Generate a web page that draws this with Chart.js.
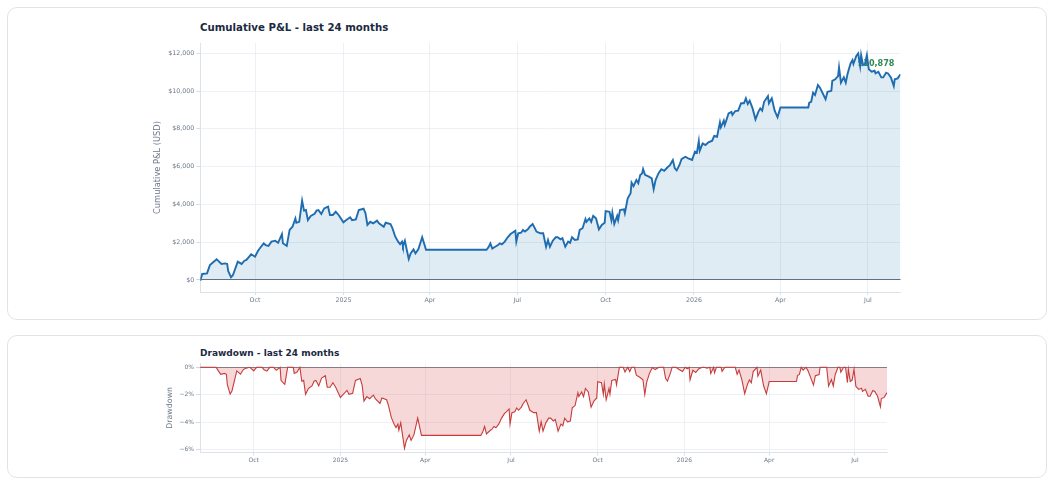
<!DOCTYPE html>
<html>
<head>
<meta charset="utf-8">
<script src="https://cdn.jsdelivr.net/npm/chart.js@4.4.1/dist/chart.umd.min.js"></script>
<style>
  html, body { margin: 0; padding: 0; background: #ffffff; }
  body { position: relative; width: 1051px; height: 486px; overflow: hidden; font-family: 'DejaVu Sans', sans-serif; }
  .card { position: absolute; box-sizing: border-box; border: 1.5px solid #dfe4eb; border-radius: 10px; background: #ffffff; }
  .ttl { position: absolute; font-weight: bold; color: #1b2a41; line-height: 1; white-space: nowrap; }
  canvas { position: absolute; left: 0; }
</style>
</head>
<body>
<div class="card" style="left:7px;top:7px;width:1040px;height:313px;"></div>
<div class="card" style="left:7px;top:335px;width:1040px;height:143px;"></div>
<div class="ttl" style="left:200px;top:22.6px;font-size:10.2px;">Cumulative P&amp;L - last 24 months</div>
<div class="ttl" style="left:200px;top:348.7px;font-size:9px;">Drawdown - last 24 months</div>
<canvas id="pnlChart" width="1051" height="328" style="top:0px;"></canvas>
<canvas id="ddChart" width="1051" height="156" style="top:330px;"></canvas>
<script>
// ---------------- data ----------------
const START_DATE = '2024-08-05';
const STARTING_CAPITAL = 48000;

const pnlDays = [
  0, 2, 7, 10, 14, 17, 19, 22, 26, 28, 29, 32, 34, 39, 43, 46, 48, 53, 57, 60,
  62, 66, 68, 71, 74, 78, 81, 85, 86, 90, 93, 96, 99, 100, 103, 106, 108, 110, 112, 115,
  119, 121, 123, 126, 129, 133, 135, 138, 141, 144, 149, 152, 156, 158, 162, 165, 170, 172, 174, 177,
  180, 184, 186, 191, 193, 198, 200, 203, 206, 208, 210, 211, 213, 215, 217, 219, 222, 224, 227, 231,
  235, 298, 300, 302, 304, 307, 310, 312, 314, 317, 320, 323, 325, 328, 329, 331, 334, 336, 338, 341,
  343, 346, 348, 350, 354, 357, 360, 362, 364, 367, 370, 372, 375, 377, 380, 383, 385, 387, 390, 393,
  395, 398, 401, 402, 405, 407, 409, 412, 415, 418, 421, 422, 426, 428, 429, 431, 434, 435, 437, 441,
  442, 445, 448, 449, 451, 454, 456, 458, 460, 461, 463, 467, 470, 472, 474, 477, 480, 483, 487, 489,
  492, 494, 496, 499, 501, 505, 508, 512, 515, 517, 519, 520, 523, 526, 529, 533, 535, 538, 541, 542,
  545, 546, 548, 550, 553, 554, 557, 560, 563, 566, 568, 570, 572, 575, 578, 581, 583, 585, 587, 591,
  592, 595, 598, 601, 604, 633, 634, 636, 638, 640, 643, 645, 648, 651, 653, 657, 658, 661, 664, 665,
  667, 670, 672, 674, 677, 679, 680, 683, 685, 686, 687, 688, 690, 692, 694, 696, 699, 702, 703, 706,
  709, 711, 714, 716, 719, 722, 723, 726, 729
];

const pnlValues = [
  -40, 320, 350, 790, 970, 1100, 1000, 850, 880, 850, 480, 140, 260, 970, 850, 1020, 1060, 1360, 1230, 1530,
  1680, 1940, 1850, 1800, 2030, 2080, 1970, 2430, 1940, 1800, 2650, 2820, 3260, 3030, 3080, 4200, 3670, 3700, 3170, 3390,
  3500, 3670, 3700, 3490, 3790, 3880, 3440, 3440, 3610, 3440, 3050, 3170, 3320, 3170, 3210, 3700, 3770, 3530, 2910, 3080,
  3000, 3140, 3000, 2820, 3030, 2960, 2740, 2290, 2030, 1900, 2030, 1800, 2080, 1590, 1110, 1410, 1620, 1410, 1620, 2260,
  1600, 1600, 1730, 1940, 1660, 1760, 1850, 1940, 1890, 2030, 2260, 2430, 2500, 2610, 2030, 2470, 2500, 2650, 2560, 2680,
  2820, 2960, 2770, 2560, 2470, 2470, 1760, 2120, 1760, 2080, 2260, 2260, 2150, 2210, 1760, 2030, 1970, 2260, 2120, 2150,
  2650, 2740, 3230, 3080, 3260, 3080, 3390, 3260, 2680, 2910, 3030, 3650, 3610, 3170, 3560, 2960, 3390, 3170, 3700, 3740,
  3530, 4320, 4590, 5150, 4970, 5290, 5120, 5560, 5640, 5870, 5560, 5470, 5380, 4800, 5290, 5640, 5860, 5780, 5990, 6080,
  6350, 5910, 5800, 6100, 6390, 6520, 6440, 6350, 6790, 6730, 7350, 6840, 7230, 7140, 7280, 7370, 7620, 7580, 8340, 8080,
  8430, 8200, 8500, 8820, 8900, 8730, 8940, 8960, 9350, 9350, 9610, 9310, 9490, 9080, 8500, 8900, 9080, 8960, 9430, 9730,
  9350, 9610, 8960, 8610, 9130, 9130, 9380, 9430, 9910, 9790, 10320, 10190, 9880, 9560, 9960, 10010, 10540, 10620, 10790, 11250,
  10440, 10720, 10440, 10930, 11460, 11640, 11430, 11850, 11990, 11640, 11320, 11900, 11370, 11430, 11900, 11150, 11020, 11070, 10930, 11020,
  10720, 10720, 10970, 10930, 10720, 10260, 10620, 10670, 10878
];

const monthTickDates  = ['2024-10-01', '2025-01-01', '2025-04-01', '2025-07-01', '2025-10-01', '2026-01-01', '2026-04-01', '2026-07-01'];
const monthTickLabels = ['Oct', '2025', 'Apr', 'Jul', 'Oct', '2026', 'Apr', 'Jul'];
const pnlTickValues = [0, 2000, 4000, 6000, 8000, 10000, 12000];
const ddTickValues  = [0, -2, -4, -6];

// ---------------- helpers ----------------
const FONT = "'DejaVu Sans', sans-serif";
const TICK_COLOR = '#6b7888';
const GRID_COLOR = '#e9edf2';
const SPINE_COLOR = '#dde2e8';

function dayOf(dateStr) {
  return Math.round((Date.parse(dateStr) - Date.parse(START_DATE)) / 86400000);
}
const monthTickDays = monthTickDates.map(dayOf);

const pnlPoints = pnlDays.map((d, i) => ({ x: d, y: pnlValues[i] }));

// drawdown (% from running peak of account equity)
let runningPeak = -Infinity;
const ddPoints = pnlDays.map((d, i) => {
  const equity = STARTING_CAPITAL + pnlValues[i];
  runningPeak = Math.max(runningPeak, equity);
  return { x: d, y: (equity / runningPeak - 1) * 100 };
});

Chart.defaults.font.family = FONT;

function xAxis(fontSize, height) {
  return {
    type: 'linear',
    min: pnlDays[0],
    max: pnlDays[pnlDays.length - 1],
    afterBuildTicks: s => { s.ticks = monthTickDays.map(v => ({ value: v })); },
    afterFit: s => { s.height = height; },
    ticks: {
      autoSkip: false, maxRotation: 0, minRotation: 0, padding: 1.5,
      color: TICK_COLOR, font: { size: fontSize },
      callback: (v, i) => monthTickLabels[i]
    },
    grid: { color: GRID_COLOR, lineWidth: 0.8, tickLength: 3, tickColor: '#cfd5dd' },
    border: { color: SPINE_COLOR, width: 1 }
  };
}

function yGrid(zeroColor) {
  return {
    color: ctx => (ctx.tick && ctx.tick.value === 0) ? zeroColor : GRID_COLOR,
    lineWidth: ctx => (ctx.tick && ctx.tick.value === 0) ? 1.1 : 0.8,
    tickLength: 4,
    tickColor: '#cfd5dd'
  };
}

// label of final value
const lastValueLabel = {
  id: 'lastValueLabel',
  beforeDatasetsDraw(chart) {
    const meta = chart.getDatasetMeta(0);
    const pt = meta.data[meta.data.length - 1];
    const val = pnlValues[pnlValues.length - 1];
    const ctx = chart.ctx;
    ctx.save();
    ctx.font = "bold 8.1px " + FONT;
    ctx.fillStyle = '#2f8a55';
    ctx.textAlign = 'right';
    ctx.textBaseline = 'middle';
    ctx.fillText('$' + val.toLocaleString('en-US'), pt.x - 6, pt.y - 10.5);
    ctx.restore();
  }
};

// ---------------- cumulative P&L chart ----------------
new Chart(document.getElementById('pnlChart'), {
  type: 'line',
  data: {
    datasets: [{
      data: pnlPoints,
      borderColor: '#1f6db0',
      backgroundColor: 'rgba(31,119,180,0.14)',
      borderWidth: 1.9,
      pointRadius: 0,
      tension: 0,
      fill: 'origin'
    }]
  },
  options: {
    responsive: false,
    animation: false,
    events: [],
    layout: { padding: { left: 153.3, right: 150.5, top: 43, bottom: 16 } },
    plugins: { legend: { display: false }, tooltip: { enabled: false }, title: { display: false } },
    scales: {
      x: xAxis(6.3, 20),
      y: {
        min: -635, max: 12540,
        afterBuildTicks: s => { s.ticks = pnlTickValues.map(v => ({ value: v })); },
        afterFit: s => { s.width = 47; },
        ticks: {
          padding: 2, color: TICK_COLOR, font: { size: 6.3 },
          callback: v => '$' + Number(v).toLocaleString('en-US')
        },
        grid: yGrid('#66717d'),
        border: { color: SPINE_COLOR, width: 1 },
        title: { display: true, text: 'Cumulative P&L (USD)', color: TICK_COLOR, font: { size: 8.3 }, padding: 0 }
      }
    }
  },
  plugins: [lastValueLabel]
});

// ---------------- drawdown chart ----------------
new Chart(document.getElementById('ddChart'), {
  type: 'line',
  data: {
    datasets: [{
      data: ddPoints,
      borderColor: '#c73c3c',
      backgroundColor: 'rgba(214,60,60,0.2)',
      borderWidth: 1.1,
      pointRadius: 0,
      tension: 0,
      fill: 'origin'
    }]
  },
  options: {
    responsive: false,
    animation: false,
    events: [],
    layout: { padding: { left: 165.3, right: 164, top: 33.2, bottom: 13.5 } },
    plugins: { legend: { display: false }, tooltip: { enabled: false }, title: { display: false } },
    scales: {
      x: xAxis(6.0, 20),
      y: {
        min: -6.23, max: 0.30,
        afterBuildTicks: s => { s.ticks = ddTickValues.map(v => ({ value: v })); },
        afterFit: s => { s.width = 34.7; },
        ticks: {
          padding: 2, color: TICK_COLOR, font: { size: 6.0 },
          callback: v => (v < 0 ? '\u2212' + Math.abs(v) : String(v)) + '%'
        },
        grid: yGrid('#7d848c'),
        border: { color: SPINE_COLOR, width: 1 },
        title: { display: true, text: 'Drawdown', color: TICK_COLOR, font: { size: 7.9 }, padding: 0 }
      }
    }
  }
});
</script>
</body>
</html>
